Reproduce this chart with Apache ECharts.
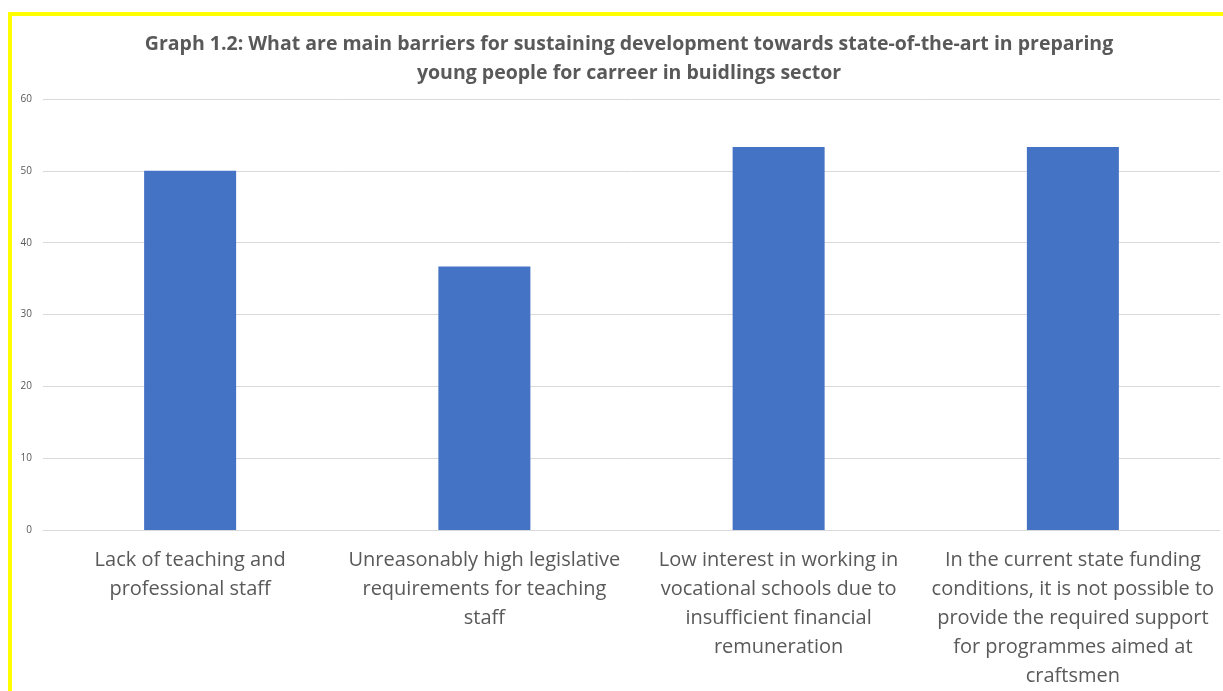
<!DOCTYPE html>
<html>
<head>
<meta charset="utf-8">
<script src="https://cdn.jsdelivr.net/npm/echarts@6/dist/echarts.min.js"></script>
<style>
html,body{margin:0;padding:0;background:#fff;}
#chart{position:absolute;left:0;top:0;width:1223px;height:691px;}
#bt{position:absolute;left:8px;top:12px;width:1215px;height:4px;background:#FFFF00;}
#bl{position:absolute;left:8px;top:12px;width:4px;height:679px;background:#FFFF00;}
</style>
</head>
<body>
<div id="chart"></div>
<div id="bt"></div>
<div id="bl"></div>
<script>
const titleText = 'Graph 1.2: What are main barriers for sustaining development towards state-of-the-art in preparing\nyoung people for carreer in buidlings sector';
const categories = [
  'Lack of teaching and\nprofessional staff',
  'Unreasonably high legislative\nrequirements for teaching\nstaff',
  'Low interest in working in\nvocational schools due to\ninsufficient financial\nremuneration',
  'In the current state funding\nconditions, it is not possible to\nprovide the required support\nfor programmes aimed at\ncraftsmen'
];
const values = [50, 36.67, 53.33, 53.33];
const yMin = 0, yMax = 60, yStep = 10;

const chart = echarts.init(document.getElementById('chart'), null, {renderer: 'canvas', width: 1223, height: 691});
chart.setOption({
  animation: false,
  backgroundColor: '#ffffff',
  title: {
    text: titleText,
    left: 624,
    textAlign: 'center',
    top: 25,
    textStyle: {
      fontFamily: 'Open Sans',
      fontWeight: 'bold',
      fontSize: 19.5,
      lineHeight: 29,
      color: '#595959'
    }
  },
  grid: {left: 43, width: 1177, top: 99, height: 434, containLabel: false},
  xAxis: {
    type: 'category',
    data: categories,
    axisLine: {show: true, lineStyle: {color: '#D9D9D9', width: 1}},
    axisTick: {show: false},
    axisLabel: {
      interval: 0,
      margin: 16,
      fontFamily: 'Open Sans',
      fontSize: 20,
      lineHeight: 29,
      color: '#595959',
      align: 'center'
    }
  },
  yAxis: {
    type: 'value',
    min: yMin,
    max: yMax,
    interval: yStep,
    axisLine: {show: false},
    axisTick: {show: false},
    axisLabel: {fontFamily: 'Open Sans', fontSize: 10, color: '#595959', margin: 11},
    splitLine: {lineStyle: {color: '#D9D9D9', width: 1}}
  },
  series: [{
    type: 'bar',
    data: values,
    barWidth: 92,
    itemStyle: {color: '#4472C4'}
  }]
});
</script>
</body>
</html>
